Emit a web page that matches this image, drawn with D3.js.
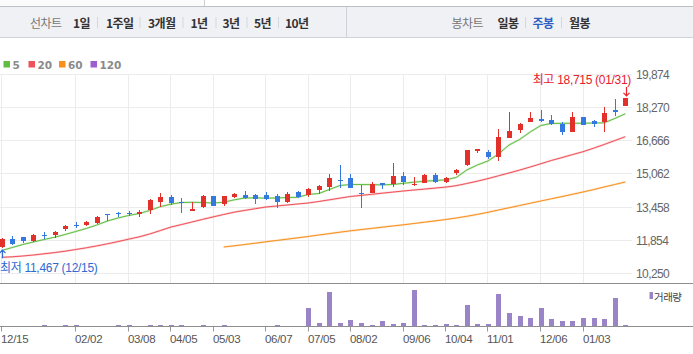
<!DOCTYPE html>
<html><head><meta charset="utf-8">
<script src="https://cdn.jsdelivr.net/npm/d3@7"></script>
<style>
html,body{margin:0;padding:0;background:#fff;}
svg{display:block;}
</style></head><body>
<svg id="c" width="693" height="354"></svg>
<script>
// ---------- DATA ----------
const categories = ["2020-12-15","2020-12-21","2020-12-28","2021-01-04","2021-01-11","2021-01-18","2021-01-25","2021-02-02","2021-02-08","2021-02-15",
"2021-02-22","2021-03-02","2021-03-08","2021-03-15","2021-03-22","2021-03-29","2021-04-05","2021-04-12","2021-04-19","2021-04-26",
"2021-05-03","2021-05-10","2021-05-17","2021-05-24","2021-05-31","2021-06-07","2021-06-14","2021-06-21","2021-06-28","2021-07-05",
"2021-07-12","2021-07-19","2021-07-26","2021-08-02","2021-08-09","2021-08-17","2021-08-23","2021-08-30","2021-09-06","2021-09-13",
"2021-09-23","2021-09-27","2021-10-04","2021-10-11","2021-10-18","2021-10-25","2021-11-01","2021-11-08","2021-11-15","2021-11-22",
"2021-11-29","2021-12-06","2021-12-13","2021-12-20","2021-12-27","2022-01-03","2022-01-10","2022-01-17","2022-01-24","2022-01-31"];

const openV  = [11500,11910,12010,11815,12080,12105,12395,12600,12590,12675,13110,13190,13190,13110,13330,13720,13950,13690,13285,13465,
13995,13595,13960,14045,14045,14045,13980,13705,14190,14030,14285,14445,14760,14855,14160,14155,14610,14565,14965,14560,
14640,15015,14675,15125,15500,16190,16130,15900,16820,17180,17595,17725,17680,17485,17110,17825,17630,17580,18165,18350];
const highV  = [11950,12060,12020,12150,12250,12315,12590,12735,12785,13010,13115,13235,13270,13320,13850,14140,14045,13885,13705,14030,
14000,14000,14140,14240,14080,14190,14095,14190,14240,14385,14530,15075,15500,15060,14530,14660,14640,15595,15160,14915,
15060,15095,14930,15305,16225,16275,16225,17245,18065,17535,18065,18150,17920,17580,18065,17825,17680,18310,18690,18715];
const lowV   = [11467,11610,11730,11780,11910,11960,12285,12460,12555,12625,12770,12980,13030,12995,13140,13480,13575,13185,13285,13430,
13495,13510,13915,13835,13625,13790,13430,13670,13915,13960,14105,14255,14400,14370,13430,14125,14320,14445,14530,14480,
14610,14640,14640,15000,15465,16095,15790,15705,16820,17065,17595,17570,17435,16950,17110,17450,17325,17110,17870,18350];
const closeV = [11910,11670,11815,12105,12070,12265,12540,12590,12735,12980,13100,13180,13180,13235,13800,13950,13670,13640,13365,13995,
13525,13995,14080,13915,13835,13835,13720,14095,13960,14335,14480,14870,14745,14400,14150,14565,14530,14965,14675,14580,
15015,14690,14870,15255,16225,16275,15885,16855,17145,17485,17775,17630,17485,17085,17825,17450,17485,18020,18065,18715];

const ma5 = [11354,11499,11644,11765,11886,11993,12128,12274,12419,12588,12782,12927,13048,13145,13290,13474,13595,13677,13687,13677,
13653,13687,13808,13895,13905,13886,13895,13919,13929,14065,14113,14307,14500,14549,14549,14539,14530,14549,14607,14660,
14709,14738,14776,14888,15251,15493,15686,16025,16461,16727,17090,17405,17502,17512,17512,17516,17526,17536,17744,17971];
const ma20 = [11025,11049,11087,11136,11194,11252,11320,11402,11484,11576,11678,11785,11901,12012,12153,12317,12487,12608,12733,12859,
12980,13097,13208,13295,13377,13460,13508,13556,13605,13653,13726,13808,13890,13968,14021,14074,14128,14181,14234,14283,
14326,14375,14423,14491,14597,14709,14834,14970,15106,15246,15396,15551,15711,15851,15996,16137,16306,16485,16674,16863];
const ma60 = [null,null,null,null,null,null,null,null,null,null,null,null,null,null,null,null,null,null,null,null,
null,11523,11581,11644,11707,11775,11838,11901,11969,12032,12104,12172,12240,12307,12366,12424,12482,12540,12598,12661,
12724,12787,12854,12927,13009,13101,13203,13314,13421,13532,13639,13750,13857,13963,14074,14186,14302,14428,14549,14670];

const volume = [20,20,20,20,130,20,130,130,30,30,30,130,130,30,130,130,130,130,30,130,
30,130,30,30,30,30,130,30,30,1800,330,3400,330,600,300,100,500,200,300,3600,
100,100,200,100,2100,230,230,3200,1300,1000,800,1800,700,500,500,800,800,700,2800,100];

const yTicks = [10250,11854,13458,15062,16666,18270,19874];
const xTickDates = ["2020-12-15","2021-02-02","2021-03-08","2021-04-05","2021-05-03","2021-06-07","2021-07-05","2021-08-02",
"2021-09-06","2021-10-04","2021-11-01","2021-12-06","2022-01-03"];
const legendLabels = ["5","20","60","120"];
const periodTabs = ["1일","1주일","3개월","1년","3년","5년","10년"];
const candleTabs = ["일봉","주봉","월봉"];

// ---------- STYLE ----------
const UP="#e2302b", DOWN="#3479e0";
const maColors = ["#62bd43","#f0525a","#f7901e","#9c5fce"];
const VOL="#9a84c8";

const svg = d3.select("#c");
const x = d3.scalePoint().domain(categories).range([1.7, 625.3]);
const y = d3.scaleLinear().domain([10250,19874]).range([273.3,74.5]);
const yv = d3.scaleLinear().domain([0,3600]).range([326,290]);
const px = v => Math.floor(v)+0.5;

// ---------- top bar ----------
svg.append("rect").attr("x",0).attr("y",0).attr("width",204).attr("height",6).attr("fill","#fbfbfb");
svg.append("line").attr("x1",204.5).attr("x2",204.5).attr("y1",0).attr("y2",6).attr("stroke","#cfcfcf");
svg.append("rect").attr("x",0).attr("y",6).attr("width",693).attr("height",31).attr("fill","#f0f1f5");
svg.append("line").attr("x1",0).attr("x2",693).attr("y1",6.5).attr("y2",6.5).attr("stroke","#bcbfc5");
svg.append("line").attr("x1",0).attr("x2",693).attr("y1",37.5).attr("y2",37.5).attr("stroke","#cfd2d8");
svg.append("line").attr("x1",346.5).attr("x2",346.5).attr("y1",7).attr("y2",37).attr("stroke","#cfd2d8");

const tabFont = "'Noto Sans CJK KR', sans-serif";
function tabText(t, xx, color, bold){
  svg.append("text").attr("x",xx).attr("y",22.5).attr("dominant-baseline","central")
    .attr("font-family",tabFont).attr("font-size",12).attr("letter-spacing","-0.6")
    .attr("font-weight",bold?"bold":"normal").attr("fill",color).text(t);
}
tabText("선차트",30,"#777",false);
const tabX = [73,106,148,190.5,222.5,254,285];
const sepX = [97.5,140,183,216,247,278.5];
periodTabs.forEach((t,i)=>tabText(t,tabX[i],"#333",true));
sepX.forEach(s=>svg.append("line").attr("x1",s).attr("x2",s).attr("y1",17).attr("y2",28).attr("stroke","#d5d7dc"));
tabText("봉차트",451.5,"#777",false);
const ctX=[497.5,532.5,569];
candleTabs.forEach((t,i)=>tabText(t,ctX[i],i===1?"#2d5fc5":"#333",true));
[525.5,561.5].forEach(s=>svg.append("line").attr("x1",s).attr("x2",s).attr("y1",17).attr("y2",28).attr("stroke","#d5d7dc"));

// ---------- legend ----------
const legX = [3.5,28.5,59,90.5];
legendLabels.forEach((l,i)=>{
  svg.append("rect").attr("x",legX[i]).attr("y",61).attr("width",6.5).attr("height",6.5).attr("fill",maColors[i]);
  svg.append("text").attr("x",legX[i]+9).attr("y",64.5).attr("dominant-baseline","central")
    .attr("font-family","'DejaVu Sans', sans-serif").attr("font-weight","bold").attr("font-size",10.5)
    .attr("fill","#8a8a8a").text(l);
});

// ---------- grid ----------
const g = svg.append("g");
yTicks.forEach(t=>{
  g.append("line").attr("x1",0).attr("x2",632).attr("y1",px(y(t))).attr("y2",px(y(t))).attr("stroke","#ececec");
  svg.append("text").attr("x",636).attr("y",y(t)+0.5).attr("dominant-baseline","central")
    .attr("font-family","'Liberation Sans', Arial, sans-serif").attr("font-size",12).attr("letter-spacing","-0.6")
    .attr("fill","#666").text(d3.format(",")(t));
});
xTickDates.forEach(d=>{
  const xx = px(x(d));
  g.append("line").attr("x1",xx).attr("x2",xx).attr("y1",74).attr("y2",283).attr("stroke","#ececec");
  svg.append("line").attr("x1",xx).attr("x2",xx).attr("y1",327).attr("y2",331.5).attr("stroke","#999");
  svg.append("text").attr("x",Math.floor(x(d))).attr("y",338.5).attr("dominant-baseline","central")
    .attr("font-family","'Liberation Sans', Arial, sans-serif").attr("font-size",11.5).attr("letter-spacing","-0.3")
    .attr("fill","#555").text(d.slice(5,7)+"/"+d.slice(8,10));
});
svg.append("line").attr("x1",0).attr("x2",693).attr("y1",283.5).attr("y2",283.5).attr("stroke","#8e8e8e");
svg.append("line").attr("x1",0).attr("x2",693).attr("y1",326.5).attr("y2",326.5).attr("stroke","#8e8e8e");

// ---------- moving averages ----------
function maLine(arr,color,w){
  const line = d3.line().defined(d=>d!=null).x((d,i)=>x(categories[i])).y(d=>y(d));
  svg.append("path").attr("d",line(arr)).attr("fill","none").attr("stroke",color).attr("stroke-opacity",0.25).attr("stroke-width",w+1.2);
  svg.append("path").attr("d",line(arr)).attr("fill","none").attr("stroke",color).attr("stroke-width",w);
}
maLine(ma60,maColors[2],1);
maLine(ma20,maColors[1],1);
maLine(ma5,maColors[0],1);

// ---------- candles ----------
const cg = svg.append("g").attr("shape-rendering","crispEdges");
categories.forEach((c,i)=>{
  const o=openV[i],h=highV[i],l=lowV[i],cl=closeV[i];
  const col = cl>=o?UP:DOWN;
  const cx = Math.round(x(c));
  cg.append("rect").attr("x",cx).attr("y",y(h)).attr("width",1).attr("height",Math.max(1,y(l)-y(h))).attr("fill",col);
  const top=y(Math.max(o,cl)), bot=y(Math.min(o,cl));
  cg.append("rect").attr("x",cx-2).attr("y",top).attr("width",5).attr("height",Math.max(1,bot-top)).attr("fill",col);
});

// ---------- volume ----------
const vg = svg.append("g").attr("shape-rendering","crispEdges");
categories.forEach((c,i)=>{
  const cx=Math.round(x(c));
  const top=yv(volume[i]);
  const hgt = 326-top;
  if(hgt>=0.6) vg.append("rect").attr("x",cx-2).attr("y",Math.round(top)).attr("width",5).attr("height",326-Math.round(top)).attr("fill",VOL);
});
svg.append("rect").attr("x",649.5).attr("y",292).attr("width",3.5).attr("height",7).attr("fill",VOL);
svg.append("text").attr("x",654).attr("y",296).attr("dominant-baseline","central").attr("font-family",tabFont)
  .attr("font-size",10.5).attr("letter-spacing","-0.5").attr("fill","#444").text("거래량");

// ---------- min / max annotations ----------
const iMax = d3.maxIndex(highV), iMin = d3.minIndex(lowV);
const fmtD = d=>d.slice(5,7)+"/"+d.slice(8,10);
const annFont = "'Liberation Sans', 'Noto Sans CJK KR', sans-serif";
{
  const ax = Math.round(x(categories[iMax]))+1.5, tip = y(highV[iMax])-2.5;
  svg.append("path").attr("d",`M${ax},${tip-9}V${tip}M${ax-3},${tip-3}L${ax},${tip}L${ax+3},${tip-3}`)
    .attr("fill","none").attr("stroke","#e8202a").attr("stroke-width",1.2);
  svg.append("text").attr("x",631).attr("y",tip-16).attr("dominant-baseline","central").attr("text-anchor","end")
    .attr("font-family",annFont).attr("font-size",12).attr("letter-spacing","-0.3").attr("fill","#e8202a")
    .text("최고 "+d3.format(",")(highV[iMax])+" ("+fmtD(categories[iMax])+")");
}
{
  const ax = Math.round(x(categories[iMin]))+0.5, tip = y(lowV[iMin])+2;
  svg.append("path").attr("d",`M${ax},${tip+8}V${tip}M${ax-3},${tip+3}L${ax},${tip}L${ax+3},${tip+3}`)
    .attr("fill","none").attr("stroke","#2e6ad1").attr("stroke-width",1.2);
  svg.append("text").attr("x",0).attr("y",267.5).attr("dominant-baseline","central")
    .attr("font-family",annFont).attr("font-size",12).attr("letter-spacing","-0.3").attr("fill","#2e6ad1")
    .text("최저 "+d3.format(",")(lowV[iMin])+" ("+fmtD(categories[iMin])+")");
}
</script>
</body></html>
